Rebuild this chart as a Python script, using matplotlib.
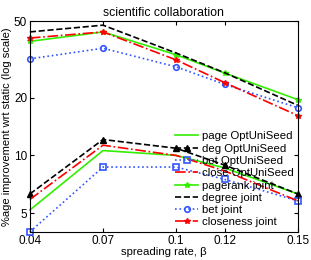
import matplotlib
matplotlib.use("Agg")
import matplotlib.pyplot as plt
from matplotlib.ticker import FixedLocator, FixedFormatter, NullLocator

plt.rcParams['font.family'] = ['Liberation Sans', 'DejaVu Sans']
plt.rcParams['font.size'] = 8

beta = [0.04, 0.07, 0.1, 0.12, 0.15]

# OptUniSeed series
page_opt = [5.2, 10.6, 10.0, 8.6, 6.3]
deg_opt = [6.3, 12.1, 10.9, 8.9, 6.3]
bet_opt = [4.0, 8.7, 8.7, 7.5, 5.8]
close_opt = [5.9, 11.3, 10.0, 8.3, 5.8]

# joint series
pagerank_joint = [39.2, 43.9, 33.4, 26.8, 19.5]
degree_joint = [43.9, 47.6, 34.1, 26.9, 18.2]
bet_joint = [31.8, 36.1, 28.9, 23.4, 17.7]
closeness_joint = [40.8, 43.9, 31.4, 23.9, 16.1]

yticks = [5, 10, 20, 50]

green = '#33ee00'
blue = '#3355ff'
red = '#ff0000'

fig = plt.figure(figsize=(3.11, 2.6), dpi=100)
ax = fig.add_axes([0.096, 0.108, 0.862, 0.811])

kw = dict(lw=1.2, ms=4, clip_on=False)
ax.plot(beta, page_opt, '-', color=green, label='page OptUniSeed', **kw)
ax.plot(beta, deg_opt, '--', color='k', marker='^', label='deg OptUniSeed', **kw)
ax.plot(beta, bet_opt, ':', color=blue, marker='s', mfc='none', mew=1.2,
        label='bet OptUniSeed', **kw)
ax.plot(beta, close_opt, '-.', color=red, label='close OptUniSeed', **kw)
ax.plot(beta, pagerank_joint, '-', color=green, marker='*', label='pagerank joint', **kw)
ax.plot(beta, degree_joint, '--', color='k', label='degree joint', **kw)
ax.plot(beta, bet_joint, ':', color=blue, marker='o', mfc='none', mew=1.2,
        label='bet joint', **kw)
ax.plot(beta, closeness_joint, '-.', color=red, marker='*', label='closeness joint', **kw)

ax.set_yscale('log')
ax.set_ylim(4, 50)
ax.set_xlim(0.04, 0.15)
ax.yaxis.set_major_locator(FixedLocator(yticks))
ax.yaxis.set_major_formatter(FixedFormatter([str(v) for v in yticks]))
ax.yaxis.set_minor_locator(NullLocator())
ax.set_xticks(beta)
ax.set_xticklabels(['0.04', '0.07', '0.1', '0.12', '0.15'])
ax.tick_params(direction='in', top=True, right=True, length=3, labelsize=8.5,
               pad=2)

ax.set_title('scientific collaboration', fontsize=8.8, pad=4)
ax.set_xlabel('spreading rate, \u03b2', fontsize=8.2, labelpad=0)
ax.set_ylabel('%age improvement wrt static (log scale)', fontsize=8, labelpad=1)

ax.legend(loc='lower right', frameon=False, fontsize=8.2, handlelength=2.0,
          handletextpad=0.3, labelspacing=0.2, borderaxespad=0.2,
          borderpad=0.2)

fig.savefig('out.png', dpi=100)
